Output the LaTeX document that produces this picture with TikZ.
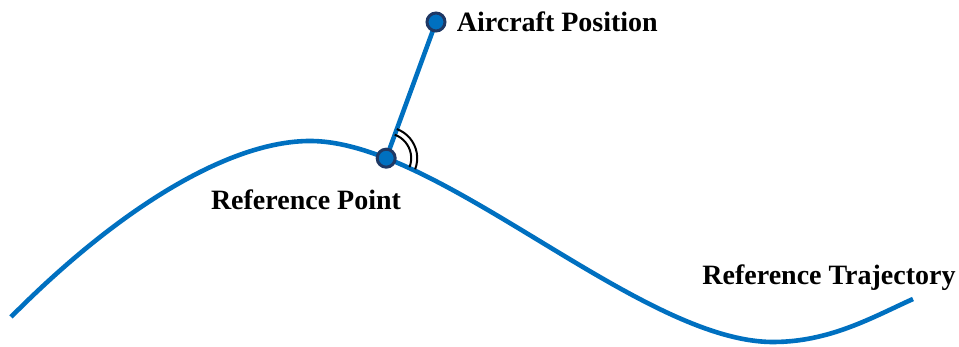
\documentclass[tikz,border=0pt]{standalone}
\usepackage{fontspec}
\setmainfont{Liberation Serif}
\usetikzlibrary{positioning}
\definecolor{trajblue}{HTML}{0070C0}
\definecolor{dotnavy}{HTML}{1F3864}
\tikzset{
  trajline/.style={draw=trajblue, line width=2.3pt},
  posdot/.style={
    circle, fill=trajblue, draw=dotnavy, line width=1.5pt,
    inner sep=0pt, minimum size=9pt
  },
  anglearc/.style={draw=black, line width=1pt},
  lbl/.style={font=\fontsize{14}{16}\selectfont\bfseries, inner sep=0pt}
}

\begin{document}
\begin{tikzpicture}[x=0.5pt, y=0.5pt]
\useasboundingbox (0,0) rectangle (959,347);

% reference trajectory
\draw[trajline] (11,30) .. controls (120,140) and (230,206) .. (310,206)
  .. controls (440,206) and (640,5) .. coordinate[pos=0.18] (refpt) (773,5)
  .. controls (830,5) and (873,30) .. (913,48);

\coordinate (acpt) at (436,325);
\draw[trajline] (refpt) -- (acpt);

% angle mark
\draw[anglearc] (refpt) ++(70:25) arc[start angle=70, end angle=-21, radius=25];
\draw[anglearc] (refpt) ++(70:31) arc[start angle=70, end angle=-21, radius=31];

\node[posdot] (ref) at (refpt) {};
\node[posdot] (ac)  at (acpt)  {};

\node[lbl, right=5pt of ac] (aclbl) {Aircraft Position};
\node[lbl] (reflbl) at (306,147) {Reference Point};
\node[lbl] (trajlbl) at (829,69) {Reference Trajectory};
\end{tikzpicture}
\end{document}
